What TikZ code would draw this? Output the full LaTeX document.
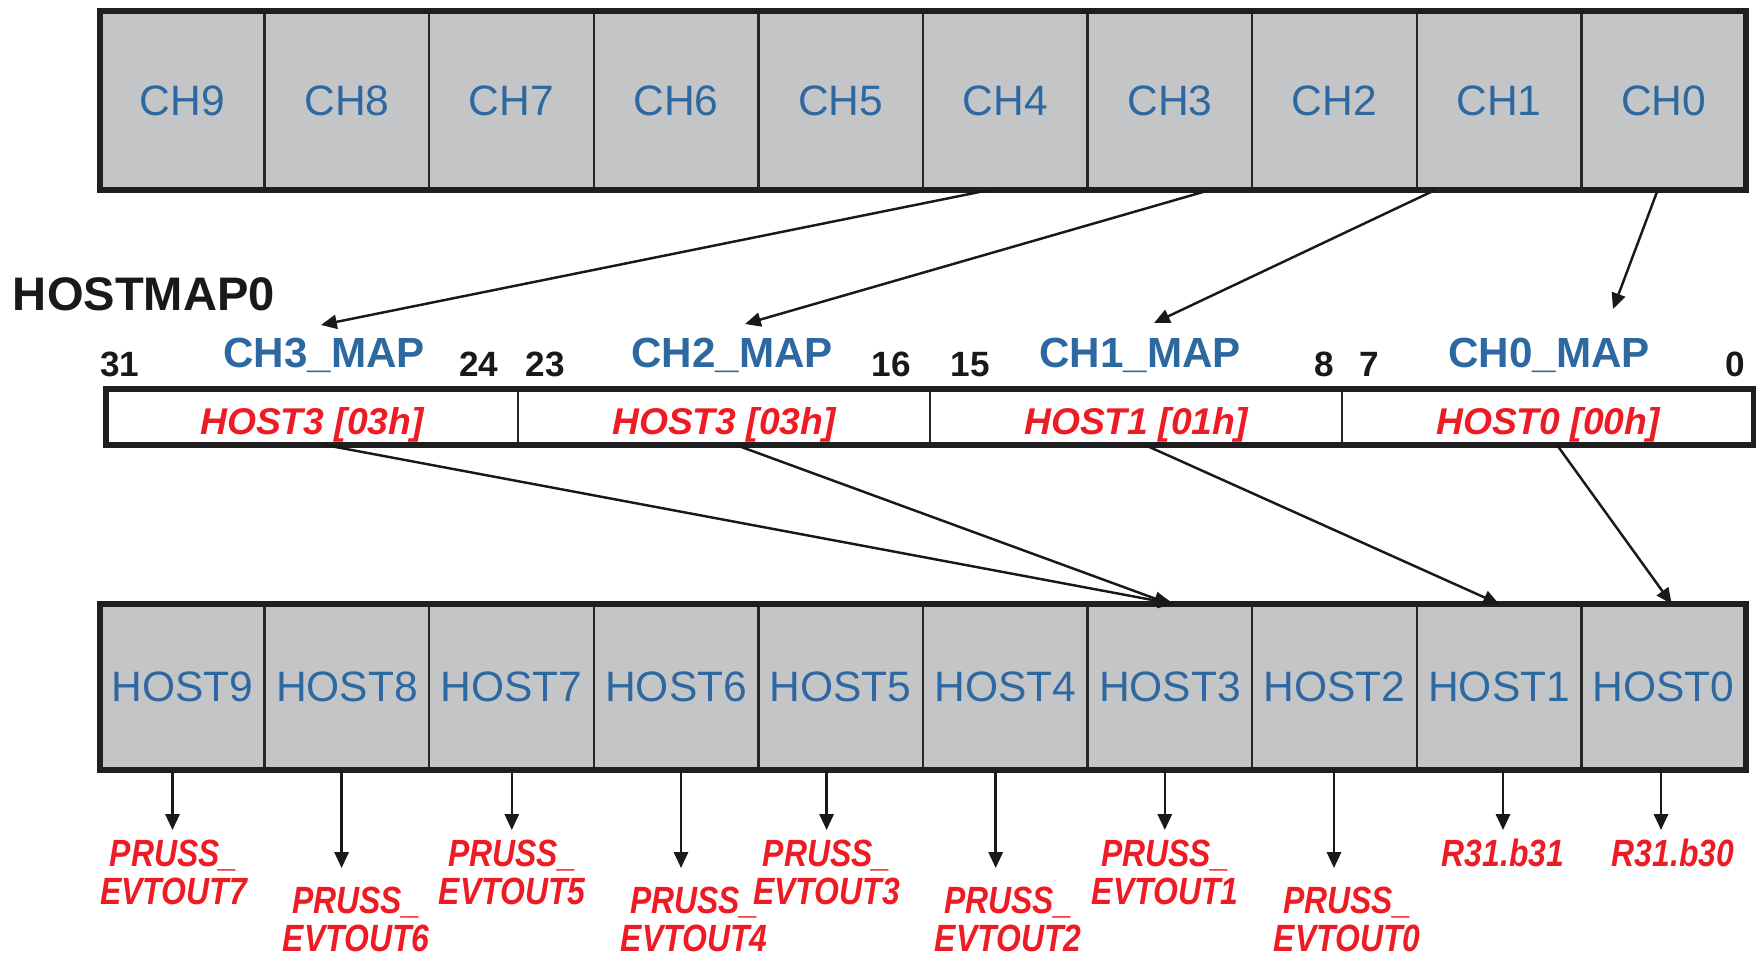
\documentclass[tikz,border=0pt]{standalone}
\usepackage{fontspec}
\setmainfont{Liberation Sans}
\newfontfamily\myCondFont[FakeStretch=0.84]{Liberation Sans}
\usetikzlibrary{arrows.meta,calc}
\definecolor{tiblue}{RGB}{46,104,160}
\definecolor{tired}{RGB}{237,28,36}
\definecolor{cellgray}{RGB}{196,197,199}
\newcommand\myCellFont{\fontsize{12.1}{14}\selectfont}
\newcommand\myTitleFont{\bfseries\fontsize{13.4}{16}\selectfont}
\newcommand\myMapFont{\bfseries\fontsize{12}{14}\selectfont}
\newcommand\myRegFont{\bfseries\itshape\fontsize{10.6}{13}\selectfont}
\newcommand\myBitFont{\bfseries\fontsize{10}{12}\selectfont}
\newcommand\myOutFont{\myCondFont\bfseries\itshape\fontsize{10.8}{10.8}\selectfont}
\begin{document}
\begin{tikzpicture}[x=0.1mm,y=-0.1mm,
  every node/.style={inner sep=0pt,outer sep=0pt},
  topcell/.style={draw=black!85,line width=0.7pt,fill=cellgray,minimum width=16.46mm,minimum height=17.9mm,text=tiblue,font=\myCellFont},
  hostcell/.style={topcell,minimum height=16.6mm},
  regcell/.style={draw=black!85,line width=0.7pt,fill=white,minimum width=41.2mm,minimum height=5.6mm,text=tired,font=\myRegFont,text height=3.55mm,text depth=0pt},
  frame/.style={draw=black!88,line width=1.7pt},
  arr/.style={draw=black!90,line width=0.7pt,-{Triangle[length=4.5pt,width=4pt]}},
  bitlbl/.style={anchor=base,font=\myBitFont,text=black!90},
  maplbl/.style={anchor=base,font=\myMapFont,text=tiblue},
  outlbl/.style={align=center,font=\myOutFont,text=tired},
]
\useasboundingbox (0,0) rectangle (1756,954);

% top channel row and bottom host row
\foreach \i in {0,...,9}{
  \node[topcell] (ch\i) at ({1663.7-164.6*\i},100.5) {CH\i};
  \node[hostcell] (host\i) at ({1663.7-164.6*\i},687) {HOST\i};
}
\draw[frame] (ch9.north west) rectangle (ch0.south east);
\draw[frame] (host9.north west) rectangle (host0.south east);

% register
\node[anchor=base west,font=\myTitleFont,text=black!90] (title) at (13,310) {HOSTMAP0};
\node[regcell] (reg3) at (312,417) {HOST3 [03h]};
\node[regcell] (reg2) at (724,417) {HOST3 [03h]};
\node[regcell] (reg1) at (1136,417) {HOST1 [01h]};
\node[regcell] (reg0) at (1548,417) {HOST0 [00h]};
\draw[frame] (reg3.north west) rectangle (reg0.south east);

\node[maplbl] (map3) at (324,367) {CH3\_MAP};
\node[maplbl] (map2) at (732,367) {CH2\_MAP};
\node[maplbl] (map1) at (1140,367) {CH1\_MAP};
\node[maplbl] (map0) at (1549,367) {CH0\_MAP};

\node[bitlbl] (b31) at (120,376) {31};
\node[bitlbl] (b24) at (479,376) {24};
\node[bitlbl] (b23) at (545,376) {23};
\node[bitlbl] (b16) at (891,376) {16};
\node[bitlbl] (b15) at (970,376) {15};
\node[bitlbl] (b8) at (1324,376) {8};
\node[bitlbl] (b7) at (1369,376) {7};
\node[bitlbl] (b0) at (1735,376) {0};

% arrows channel -> map
\coordinate (t3) at (321,325);
\coordinate (t2) at (745,324);
\coordinate (t1) at (1154,323);
\coordinate (t0) at (1613,309);
\draw[arr] ($(ch4.south)+(-16,0)$) -- (t3);
\draw[arr] ($(ch3.south)+(40,0)$) -- (t2);
\draw[arr] ($(ch1.south)+(-64,0)$) -- (t1);
\draw[arr] ($(ch0.south)+(-6,0)$) -- (t0);

% arrows map -> host
\draw[arr] ($(reg3.south)+(13,0)$) -- ($(host3.north)+(4,0)$);
\draw[arr] ($(reg2.south)+(12,0)$) -- (host3.north);
\draw[arr] ($(reg1.south)+(9,0)$) -- (host1.north);
\draw[arr] ($(reg0.south)+(9,0)$) -- ($(host0.north)+(8,0)$);

% outputs
\node[outlbl] (e7) at (173.6,872) {PRUSS\_\\EVTOUT7};
\node[outlbl] (e6) at (356,919) {PRUSS\_\\EVTOUT6};
\node[outlbl] (e5) at (512,872) {PRUSS\_\\EVTOUT5};
\node[outlbl] (e4) at (694,919) {PRUSS\_\\EVTOUT4};
\node[outlbl] (e3) at (826.6,872) {PRUSS\_\\EVTOUT3};
\node[outlbl] (e2) at (1008,919) {PRUSS\_\\EVTOUT2};
\node[outlbl] (e1) at (1165,872) {PRUSS\_\\EVTOUT1};
\node[outlbl] (e0) at (1347,919) {PRUSS\_\\EVTOUT0};
\node[outlbl] (r31) at (1503,853) {R31.b31};
\node[outlbl] (r30) at (1673,853) {R31.b30};

\coordinate (a9) at (172.5,830);
\coordinate (a8) at (341.6,868);
\coordinate (a7) at (511.8,830);
\coordinate (a6) at (681,868);
\coordinate (a5) at (826.6,830);
\coordinate (a4) at (995.7,868);
\coordinate (a3) at (1164.8,830);
\coordinate (a2) at (1334,868);
\coordinate (a1) at (1503,830);
\coordinate (a0) at (1661,830);
\foreach \i in {0,...,9}{
  \draw[arr] (a\i |- host\i.south) -- (a\i);
}
\end{tikzpicture}
\end{document}
